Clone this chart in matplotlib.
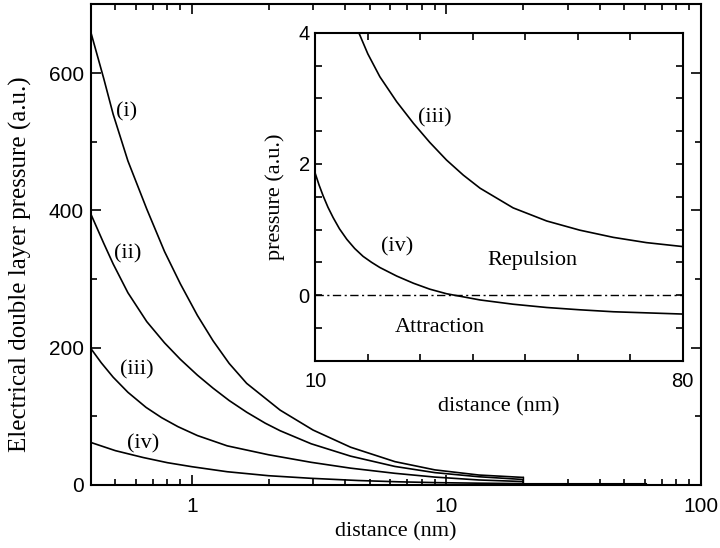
import matplotlib
matplotlib.use("Agg")
import matplotlib.pyplot as plt
from matplotlib.ticker import MultipleLocator, LogLocator, NullFormatter, FixedLocator, FixedFormatter

# ---------------- data ----------------
# main panel: pressure (a.u.) vs distance (nm), log x
x_i = [0.40, 0.45, 0.49, 0.56, 0.664, 0.78, 0.90, 1.05, 1.21, 1.40, 1.64, 2.22, 2.99, 4.2, 6.27, 9.0, 13.4, 20.0]
y_i = [660, 592, 540, 472, 402, 340, 293, 247, 210, 177, 148, 109, 80, 55, 34, 22, 14.5, 11]

x_ii = [0.40, 0.45, 0.49, 0.56, 0.664, 0.78, 0.90, 1.05, 1.21, 1.40, 1.64, 1.94, 2.22, 2.94, 4.2, 6.27, 9.0, 13.4, 20.0]
y_ii = [395, 352, 322, 280, 238, 207, 183, 160, 141, 123, 106, 90, 79, 60, 42, 27, 18, 12, 8]

x_iii = [0.40, 0.44, 0.49, 0.56, 0.66, 0.76, 0.88, 1.05, 1.375, 2.0, 2.94, 4.2, 6.27, 9.0, 13.4, 20.0]
y_iii = [199, 178, 157, 135, 113, 98, 85, 72, 57, 44, 33, 24.5, 17, 11.5, 7.3, 5]

x_iv = [0.40, 0.50, 0.643, 0.80, 1.0, 1.375, 2.0, 2.94, 4.5, 6.5, 9.2, 13.4, 20.0]
y_iv = [62, 50, 40, 32.5, 26.6, 19.3, 13.5, 9.7, 6.5, 4.6, 3.4, 2.6, 2.0]

# near-zero tail of the curves beyond 20 nm and the closing edge at 20 nm
x_tail = [20.0, 61.0]
y_tail = [0.8, 0.8]
x_edge = [20.0, 20.0]
y_edge = [0.0, 11.0]

# inset: pressure (a.u.) vs distance (nm), linear x
xin_iii = [18.3, 20.0, 22.3, 25.5, 28.7, 31.8, 35.0, 38.2, 41.4, 47.7, 54.1, 60.4, 66.8, 73.1, 80.0]
yin_iii = [4.0, 3.68, 3.33, 2.95, 2.62, 2.33, 2.06, 1.83, 1.63, 1.33, 1.13, 0.99, 0.88, 0.80, 0.74]

xin_iv = [10.0, 10.7, 11.5, 12.4, 13.4, 14.6, 16.0, 17.5, 19.1, 20.7, 22.3, 25.5, 28.7, 31.8, 35.0, 41.4, 47.7, 54.1, 60.4, 66.8, 80.0]
yin_iv = [1.85, 1.68, 1.51, 1.34, 1.18, 1.01, 0.85, 0.71, 0.59, 0.50, 0.42, 0.29, 0.18, 0.09, 0.02, -0.075, -0.14, -0.19, -0.225, -0.255, -0.29]

main_labels = ["(i)", "(ii)", "(iii)", "(iv)"]
main_label_x = [0.554, 0.559, 0.606, 0.643]
main_label_y = [544, 337, 167, 60.5]

inset_texts = ["(iii)", "(iv)", "Repulsion", "Attraction"]
inset_text_x = [32.8, 25.5, 51.3, 33.8]
inset_text_y = [2.71, 0.74, 0.53, -0.50]

main_xticks = [1, 10, 100]
main_xticklabels = ["1", "10", "100"]
main_yticks = [0, 200, 400, 600]
inset_xticks = [10, 20, 30, 40, 50, 60, 70, 80]
inset_xticklabels = ["10", "", "", "", "", "", "", "80"]
inset_yticks = [-1, -0.5, 0, 0.5, 1, 1.5, 2, 2.5, 3, 3.5, 4]
inset_yticklabels = ["", "", "0", "", "", "", "2", "", "", "", "4"]

# ---------------- styling ----------------
serif = ["Liberation Serif", "DejaVu Serif"]
sans = ["Liberation Sans", "DejaVu Sans"]
lw_curve = 1.2
lw_spine = 1.5

fig = plt.figure(figsize=(7.2, 5.48), dpi=100)
fig.patch.set_facecolor("white")

ax = fig.add_axes([0.126, 0.115, 0.8476, 0.877])
for xs, ys in [(x_i, y_i), (x_ii, y_ii), (x_iii, y_iii), (x_iv, y_iv)]:
    ax.plot(xs, ys, color="black", lw=lw_curve)
ax.plot(x_tail, y_tail, color="black", lw=1.5, clip_on=False)
ax.plot(x_edge, y_edge, color="black", lw=1.0)
ax.set_xscale("log")
ax.set_xlim(0.4, 100)
ax.set_ylim(0, 700)
ax.xaxis.set_major_locator(FixedLocator(main_xticks))
ax.xaxis.set_major_formatter(FixedFormatter(main_xticklabels))
ax.xaxis.set_minor_locator(LogLocator(base=10, subs=range(2, 10)))
ax.xaxis.set_minor_formatter(NullFormatter())
ax.set_yticks(main_yticks)
ax.yaxis.set_minor_locator(MultipleLocator(100))
ax.tick_params(which="both", direction="in", top=True, right=True, width=1.2)
ax.tick_params(which="major", length=7)
ax.tick_params(which="minor", length=4)
ax.tick_params(axis="x", which="major", pad=9)
ax.tick_params(axis="y", which="major", pad=5)
for lab in ax.get_xticklabels() + ax.get_yticklabels():
    lab.set_family(sans)
    lab.set_fontsize(15)
for s in ax.spines.values():
    s.set_linewidth(lw_spine)
ax.set_xlabel("distance (nm)", family=serif, fontsize=16, labelpad=4)
ax.set_ylabel("Electrical double layer pressure (a.u.)", family=serif, fontsize=18, labelpad=12)
ax.yaxis.label.set_y(0.46)
for t, tx, ty in zip(main_labels, main_label_x, main_label_y):
    ax.text(tx, ty, t, family=serif, fontsize=16, ha="center", va="center")

# ---------------- inset ----------------
ax2 = fig.add_axes([0.438, 0.342, 0.510, 0.598])
ax2.plot(xin_iii, yin_iii, color="black", lw=lw_curve)
ax2.plot(xin_iv, yin_iv, color="black", lw=lw_curve)
ax2.axhline(0, color="black", lw=1.0, dashes=(6, 2.5, 1.5, 2.5))
ax2.set_xlim(10, 80)
ax2.set_ylim(-1, 4)
ax2.xaxis.set_major_locator(FixedLocator(inset_xticks))
ax2.xaxis.set_major_formatter(FixedFormatter(inset_xticklabels))
ax2.yaxis.set_major_locator(FixedLocator(inset_yticks))
ax2.yaxis.set_major_formatter(FixedFormatter(inset_yticklabels))
ax2.tick_params(which="both", direction="in", top=True, right=True, width=1.2, length=5)
ax2.tick_params(axis="x", pad=8)
ax2.tick_params(axis="y", pad=4)
for lab in ax2.get_xticklabels() + ax2.get_yticklabels():
    lab.set_family(sans)
    lab.set_fontsize(14.5)
for s in ax2.spines.values():
    s.set_linewidth(lw_spine)
ax2.set_xlabel("distance (nm)", family=serif, fontsize=16, labelpad=5)
ax2.set_ylabel("pressure (a.u.)", family=serif, fontsize=16, labelpad=10)
for t, tx, ty in zip(inset_texts, inset_text_x, inset_text_y):
    ax2.text(tx, ty, t, family=serif, fontsize=16, ha="center", va="center")

fig.savefig("out.png", dpi=100, facecolor="white")
